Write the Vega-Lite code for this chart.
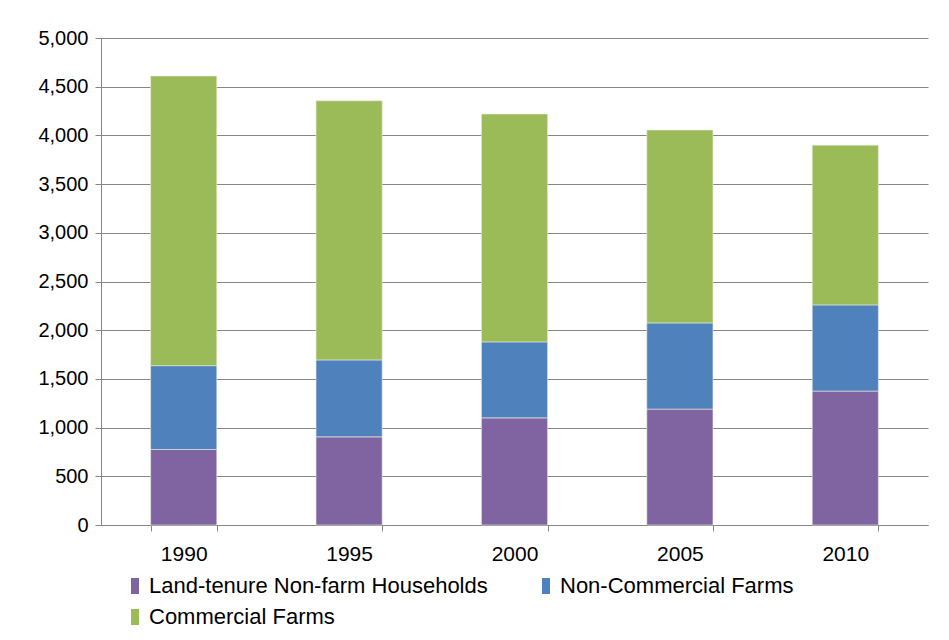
{
  "$schema": "https://vega.github.io/schema/vega-lite/v6.json",
  "width": 827,
  "height": 487,
  "autosize": "none",
  "padding": {"left": 101, "top": 38, "right": 21, "bottom": 115},
  "background": "white",
  "data": {
    "values": [
      {"year": "1990", "category": "Land-tenure Non-farm Households", "value": 775},
      {"year": "1990", "category": "Non-Commercial Farms", "value": 861},
      {"year": "1990", "category": "Commercial Farms", "value": 2974},
      {"year": "1995", "category": "Land-tenure Non-farm Households", "value": 905},
      {"year": "1995", "category": "Non-Commercial Farms", "value": 790},
      {"year": "1995", "category": "Commercial Farms", "value": 2660},
      {"year": "2000", "category": "Land-tenure Non-farm Households", "value": 1100},
      {"year": "2000", "category": "Non-Commercial Farms", "value": 780},
      {"year": "2000", "category": "Commercial Farms", "value": 2340},
      {"year": "2005", "category": "Land-tenure Non-farm Households", "value": 1190},
      {"year": "2005", "category": "Non-Commercial Farms", "value": 885},
      {"year": "2005", "category": "Commercial Farms", "value": 1980},
      {"year": "2010", "category": "Land-tenure Non-farm Households", "value": 1375},
      {"year": "2010", "category": "Non-Commercial Farms", "value": 885},
      {"year": "2010", "category": "Commercial Farms", "value": 1640}
    ]
  },
  "transform": [
    {"calculate": "indexof(['Land-tenure Non-farm Households', 'Non-Commercial Farms', 'Commercial Farms'], datum.category)", "as": "stackOrder"}
  ],
  "mark": {"type": "bar", "stroke": "#e8eedd", "strokeWidth": 0.6},
  "encoding": {
    "x": {
      "field": "year",
      "type": "ordinal",
      "scale": {"paddingInner": 0.6, "paddingOuter": 0.3},
      "axis": {
        "title": null,
        "labelAngle": 0,
        "tickBand": "extent",
        "tickSize": 6,
        "tickColor": "#868686",
        "domainColor": "#868686",
        "labelFont": "Liberation Sans",
        "labelFontSize": 21,
        "labelColor": "#000000",
        "labelPadding": 12
      }
    },
    "y": {
      "field": "value",
      "type": "quantitative",
      "stack": "zero",
      "scale": {"domain": [0, 5000], "nice": false},
      "axis": {
        "title": null,
        "values": [0, 500, 1000, 1500, 2000, 2500, 3000, 3500, 4000, 4500, 5000],
        "format": ",d",
        "tickSize": 6,
        "tickColor": "#868686",
        "domainColor": "#868686",
        "gridColor": "#868686",
        "gridWidth": 1,
        "labelFont": "Liberation Sans",
        "labelFontSize": 20,
        "labelColor": "#000000",
        "labelPadding": 7
      }
    },
    "order": {"field": "stackOrder", "type": "quantitative", "sort": "ascending"},
    "color": {
      "field": "category",
      "type": "nominal",
      "sort": ["Land-tenure Non-farm Households", "Non-Commercial Farms", "Commercial Farms"],
      "scale": {
        "domain": ["Land-tenure Non-farm Households", "Non-Commercial Farms", "Commercial Farms"],
        "range": ["#8064A2", "#4F81BD", "#9BBB59"]
      },
      "legend": {
        "title": null,
        "orient": "none",
        "legendX": 23,
        "legendY": 537,
        "direction": "horizontal",
        "columns": 2,
        "columnPadding": 47,
        "rowPadding": 9,
        "symbolType": "M-0.5,-1H0.5V1H-0.5Z",
        "symbolSize": 256,
        "symbolStrokeWidth": 0,
        "labelFont": "Liberation Sans",
        "labelFontSize": 22,
        "labelLimit": 0,
        "labelColor": "#000000",
        "labelOffset": 3
      }
    }
  },
  "config": {
    "view": {"stroke": null}
  }
}
